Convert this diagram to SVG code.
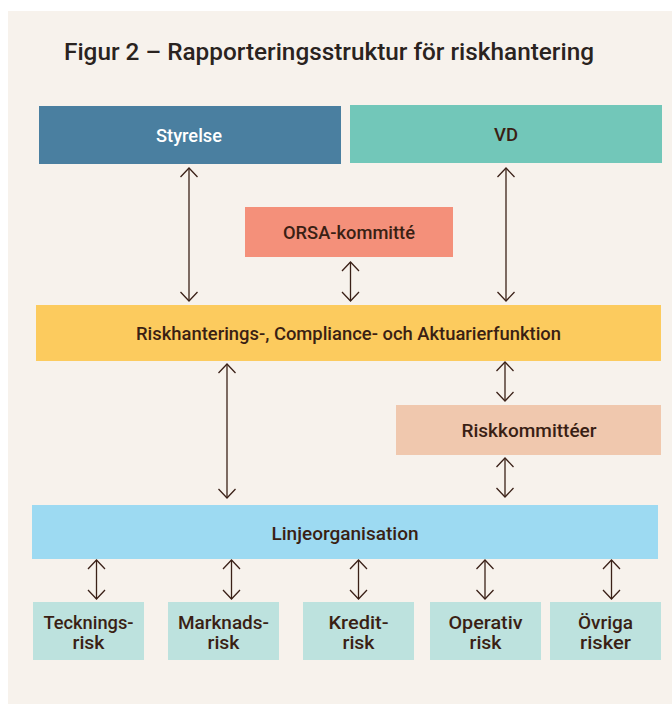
<svg xmlns="http://www.w3.org/2000/svg" width="672" height="704" viewBox="0 0 672 704">
<defs>
<marker id="ah" markerUnits="userSpaceOnUse" markerWidth="24" markerHeight="24" viewBox="-12 -12 24 24" refX="0" refY="0" orient="auto-start-reverse">
<path d="M-9,-8.5 L0,0 L-9,8.5" fill="none" stroke="#3b2118" stroke-width="1.3"/>
</marker>
<style>
.t{font-family:Roboto,"Liberation Sans",sans-serif;font-size:17.5px;font-weight:500;fill:#3a1f14;text-anchor:middle}
.c line{stroke:#3b2118;stroke-width:1.3;marker-start:url(#ah);marker-end:url(#ah)}
</style>
</defs>
<rect x="8" y="11" width="664" height="693" fill="#f7f2ec"/>
<text x="64" y="60" font-family="Roboto,'Liberation Sans',sans-serif" font-size="24" font-weight="500" fill="#2a2320" textLength="530" lengthAdjust="spacingAndGlyphs">Figur 2 – Rapporteringsstruktur för riskhantering</text>
<g id="styrelse"><rect x="39" y="106" width="302" height="58" fill="#4a7fa0"/><text class="t" x="189" y="141.5" style="fill:#ffffff" textLength="66" lengthAdjust="spacingAndGlyphs">Styrelse</text></g>
<g id="vd"><rect x="350" y="105" width="312" height="58" fill="#72c7b9"/><text class="t" x="506" y="141" textLength="24" lengthAdjust="spacingAndGlyphs">VD</text></g>
<g id="orsa"><rect x="245" y="207" width="208" height="50" fill="#f4907a"/><text class="t" x="349" y="238.5" textLength="132" lengthAdjust="spacingAndGlyphs">ORSA-kommitté</text></g>
<g id="riskfunktion"><rect x="36" y="305" width="625" height="56" fill="#fccb5e"/><text class="t" x="348.5" y="340" textLength="425" lengthAdjust="spacingAndGlyphs">Riskhanterings-, Compliance- och Aktuarierfunktion</text></g>
<g id="riskkommitteer"><rect x="396" y="405" width="265" height="50" fill="#f0c8ae"/><text class="t" x="529" y="436.5" textLength="135" lengthAdjust="spacingAndGlyphs">Riskkommittéer</text></g>
<g id="linjeorganisation"><rect x="32" y="505" width="626" height="54" fill="#9ddaf2"/><text class="t" x="345" y="539.5" textLength="147" lengthAdjust="spacingAndGlyphs">Linjeorganisation</text></g>
<g id="tecknings"><rect x="33" y="602" width="111" height="58" fill="#bde2de"/><text class="t" x="88.5" y="628.5" textLength="90" lengthAdjust="spacingAndGlyphs">Tecknings-</text><text class="t" x="88.5" y="648.5" textLength="32" lengthAdjust="spacingAndGlyphs">risk</text></g>
<g id="marknads"><rect x="168" y="602" width="111" height="58" fill="#bde2de"/><text class="t" x="223.5" y="628.5" textLength="91" lengthAdjust="spacingAndGlyphs">Marknads-</text><text class="t" x="223.5" y="648.5" textLength="32" lengthAdjust="spacingAndGlyphs">risk</text></g>
<g id="kredit"><rect x="303" y="602" width="111" height="58" fill="#bde2de"/><text class="t" x="358.5" y="628.5" textLength="60" lengthAdjust="spacingAndGlyphs">Kredit-</text><text class="t" x="358.5" y="648.5" textLength="32" lengthAdjust="spacingAndGlyphs">risk</text></g>
<g id="operativ"><rect x="430" y="602" width="111" height="58" fill="#bde2de"/><text class="t" x="485.5" y="628.5" textLength="74" lengthAdjust="spacingAndGlyphs">Operativ</text><text class="t" x="485.5" y="648.5" textLength="32" lengthAdjust="spacingAndGlyphs">risk</text></g>
<g id="ovriga"><rect x="550" y="602" width="111" height="58" fill="#bde2de"/><text class="t" x="605.5" y="628.5" textLength="55" lengthAdjust="spacingAndGlyphs">Övriga</text><text class="t" x="605.5" y="648.5" textLength="51" lengthAdjust="spacingAndGlyphs">risker</text></g>
<g id="connectors" class="c">
<line x1="189" y1="168" x2="189" y2="301"/>
<line x1="506" y1="168" x2="506" y2="301"/>
<line x1="350.5" y1="262" x2="350.5" y2="301"/>
<line x1="227" y1="364" x2="227" y2="498"/>
<line x1="505" y1="362" x2="505" y2="401"/>
<line x1="505" y1="458" x2="505" y2="497"/>
<line x1="96.5" y1="560" x2="96.5" y2="599"/>
<line x1="231.5" y1="560" x2="231.5" y2="599"/>
<line x1="358.5" y1="560" x2="358.5" y2="599"/>
<line x1="485" y1="560" x2="485" y2="599"/>
<line x1="611.5" y1="560" x2="611.5" y2="599"/>
</g>
</svg>
